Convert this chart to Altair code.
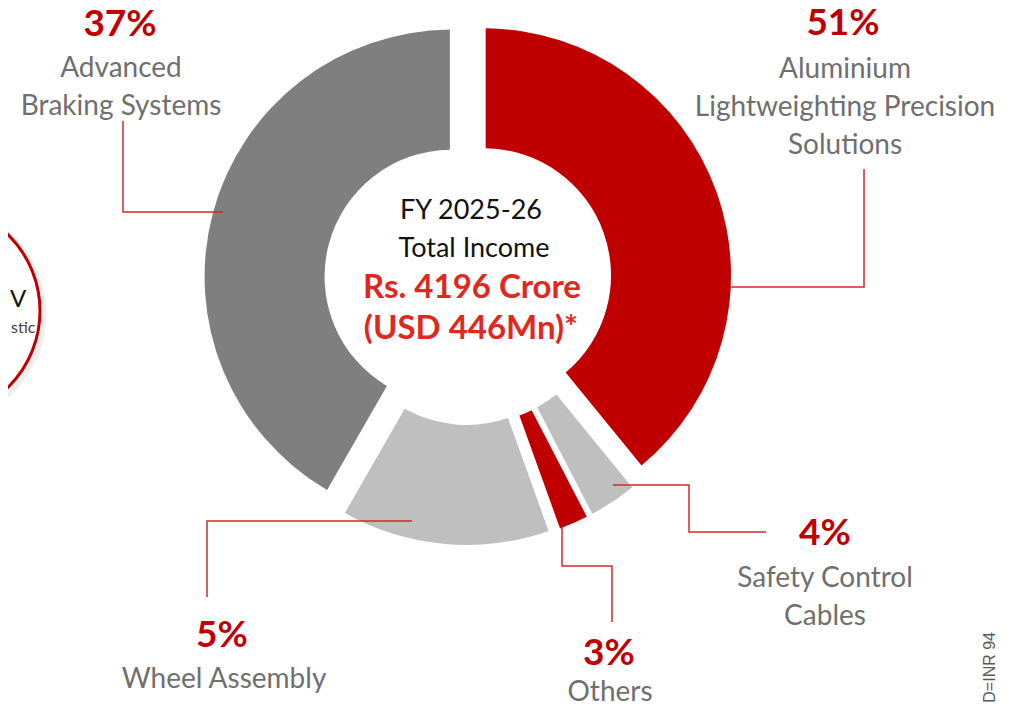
import math
import altair as alt
import pandas as pd

# ---------------- data ----------------
segments = ["Aluminium Lightweighting Precision Solutions", "Safety Control Cables",
            "Others", "Wheel Assembly", "Advanced Braking Systems"]
slice_share = [39.1, 3.3, 2.1, 13.8, 41.7]          # angular share as drawn
pct_labels = ["51%", "4%", "3%", "5%", "37%"]
name_lines = [["Aluminium", "Lightweighting Precision", "Solutions"],
              ["Safety Control", "Cables"],
              ["Others"],
              ["Wheel Assembly"],
              ["Advanced", "Braking Systems"]]
slice_colors = ["#C00000", "#BFBFBF", "#C00000", "#BFBFBF", "#7F7F7F"]
center_lines = ["FY 2025-26", "Total Income", "Rs. 4196 Crore", "(USD 446Mn)*"]
center_colors = ["#111111", "#111111", "#E0281E", "#E0281E"]
center_bold = [False, False, True, True]
side_texts = ["V", "stic"]
footnote = "D=INR 94"

# ---------------- layout (page pixel space) ----------------
W, H = 993, 696
CX, CY = 468, 281
EXPLODE = 17
R_OUT, R_IN = 247, 127
pct_pos = [(843, 35), (825, 545), (609, 665), (222, 647), (120, 36)]
name_pos = [(845, 78), (825, 587), (610, 701), (224, 688), (121, 77)]
LINE_H = 38
leader_paths = [
    [(730, 287), (864, 287), (864, 169)],
    [(613, 485), (689, 485), (689, 532), (766, 532)],
    [(562, 527), (562, 566), (612, 566), (612, 622)],
    [(412, 521), (207, 521), (207, 597)],
    [(223, 212), (123, 212), (123, 121)],
]
center_pos = [(471, 219), (474, 257), (472, 298), (471, 339)]

xs = alt.Scale(domain=[8, 8 + W], nice=False, zero=False)
ys = alt.Scale(domain=[8 + H, 8], nice=False, zero=False)
X = lambda f: alt.X(f, type="quantitative", scale=xs, axis=None)
Y = lambda f: alt.Y(f, type="quantitative", scale=ys, axis=None)

FONT = "Lato"

# ---------------- donut ----------------
arc_df = pd.DataFrame({"segment": segments, "share": slice_share,
                       "order": list(range(len(segments))), "color": slice_colors})
arcs = alt.Chart(arc_df).transform_window(
    end="sum(share)", sort=[alt.SortField("order")], frame=[None, 0]
).transform_calculate(
    start="datum.end - datum.share",
    mid="datum.end - datum.share / 2",
).transform_calculate(
    cx=f"{CX} + {EXPLODE} * sin(2 * PI * datum.mid / 100)",
    cy=f"{CY} - {EXPLODE} * cos(2 * PI * datum.mid / 100)",
).mark_arc(radius=R_OUT, radius2=R_IN, padAngle=0.012).encode(
    x=X("cx"), y=Y("cy"),
    theta=alt.Theta("start:Q", scale=alt.Scale(domain=[0, 100], range=[0, 2 * math.pi])),
    theta2="end:Q",
    color=alt.Color("color:N", scale=None),
)

# ---------------- leader lines ----------------
rows = []
for i, path in enumerate(leader_paths):
    for j, (px, py) in enumerate(path):
        rows.append({"seg": segments[i], "ord": j, "x": px, "y": py})
leaders = alt.Chart(pd.DataFrame(rows)).mark_line(
    color="#D42A2A", strokeWidth=1.5).encode(
    x=X("x"), y=Y("y"), detail="seg:N", order="ord:Q")

# ---------------- labels ----------------
pct_df = pd.DataFrame({"text": pct_labels, "x": [p[0] for p in pct_pos], "y": [p[1] for p in pct_pos]})
pct = alt.Chart(pct_df).mark_text(
    font=FONT, fontSize=37, fontWeight="bold", color="#C00000", align="center", baseline="alphabetic"
).encode(x=X("x"), y=Y("y"), text="text:N")

nrows = []
for i, lines in enumerate(name_lines):
    for k, t in enumerate(lines):
        nrows.append({"text": t, "x": name_pos[i][0], "y": name_pos[i][1] + k * LINE_H})
names = alt.Chart(pd.DataFrame(nrows)).mark_text(
    font=FONT, fontSize=28, color="#6F6F6F", align="center", baseline="alphabetic"
).encode(x=X("x"), y=Y("y"), text="text:N")

c_df = pd.DataFrame({"text": center_lines, "x": [p[0] for p in center_pos],
                     "y": [p[1] for p in center_pos], "color": center_colors,
                     "w": ["bold" if b else "normal" for b in center_bold]})
center_plain = alt.Chart(c_df).transform_filter("datum.w == 'normal'").mark_text(
    font=FONT, fontSize=27, align="center", baseline="alphabetic"
).encode(x=X("x"), y=Y("y"), text="text:N", color=alt.Color("color:N", scale=None))
center_bold_l = alt.Chart(c_df).transform_filter("datum.w == 'bold'").mark_text(
    font=FONT, fontSize=33, fontWeight="bold", align="center", baseline="alphabetic"
).encode(x=X("x"), y=Y("y"), text="text:N", color=alt.Color("color:N", scale=None))

# ---------------- cropped side elements ----------------
circ_df = pd.DataFrame({"x": [-67], "y": [311]})
shadow = alt.Chart(pd.DataFrame({"x": [-64], "y": [314]})).mark_point(
    shape="circle", size=46500, filled=False, stroke="#000000", strokeWidth=5, opacity=0.06
).encode(x=X("x"), y=Y("y"))
circle = alt.Chart(circ_df).mark_point(
    shape="circle", size=45796, filled=False, stroke="#C00000", strokeWidth=3, opacity=1
).encode(x=X("x"), y=Y("y"))
side_df = pd.DataFrame({"text": side_texts, "x": [10, 11], "y": [307, 333]})
side_v = alt.Chart(side_df.iloc[[0]]).mark_text(
    font=FONT, fontSize=24, color="#111111", align="left", baseline="alphabetic"
).encode(x=X("x"), y=Y("y"), text="text:N")
side_s = alt.Chart(side_df.iloc[[1]]).mark_text(
    font=FONT, fontSize=16, color="#404040", align="left", baseline="alphabetic"
).encode(x=X("x"), y=Y("y"), text="text:N")
foot = alt.Chart(pd.DataFrame({"text": [footnote], "x": [995], "y": [632]})).mark_text(
    font="Liberation Sans", fontSize=16, color="#595959", angle=270, align="right", baseline="alphabetic"
).encode(x=X("x"), y=Y("y"), text="text:N")

chart = alt.layer(
    shadow, circle, side_v, side_s, arcs, leaders, pct, names, center_plain, center_bold_l, foot
).properties(
    width=W, height=H, padding=0, autosize=alt.AutoSizeParams(type="none"), background="white"
).configure_view(stroke=None)

chart.save("out.html", embed_options={"renderer": "svg", "actions": False})
